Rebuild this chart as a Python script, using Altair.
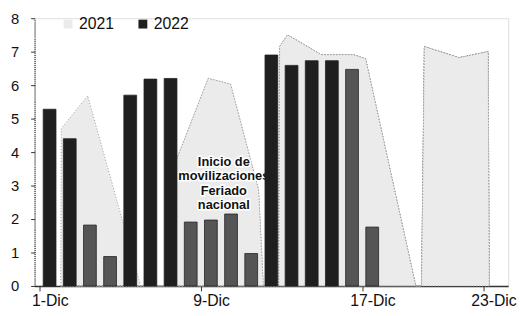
import altair as alt
import pandas as pd

# 2022 daily values (bars), days 1..17 of December
dias = list(range(1, 18))
valores_2022 = [5.28, 4.40, 1.82, 0.88, 5.70, 6.18, 6.20, 1.91, 1.97, 2.15, 0.97,
                6.90, 6.59, 6.73, 6.73, 6.47, 1.76]
resaltado = [False, False, True, True, False, False, False, True, True, True, True,
             False, False, False, False, True, True]

# 2021 outline (day position, value), in segments
tramo_2021 = [1, 1, 1, 1,
              2, 2, 2, 2, 2, 2,
              3, 3, 3, 3, 3, 3, 3,
              4, 4, 4, 4, 4]
dia_2021 = [1.55, 1.58, 2.89, 5.52,
            7.25, 7.29, 8.87, 9.97, 11.36, 11.60,
            12.37, 12.41, 12.80, 14.47, 16.05, 16.67, 19.16,
            19.45, 19.59, 21.31, 22.75, 22.80]
valores_2021 = [0, 4.70, 5.68, 0,
                0, 3.76, 6.20, 6.03, 2.88, 0,
                0, 7.15, 7.50, 6.91, 6.91, 6.79, 0,
                0, 7.15, 6.82, 7.00, 0]

dias_etiqueta = [1, 9, 17, 23]
series = ["2021", "2022"]
nota = "Inicio de\nmovilizaciones\nFeriado\nnacional"
nota_dia = 9.64
nota_valor = 3.88

df22 = pd.DataFrame({"dia": dias, "valor": valores_2022, "resaltado": resaltado, "serie": "2022"})
df21 = pd.DataFrame({"dia": dia_2021, "valor": valores_2021, "tramo": tramo_2021, "serie": "2021"})
dfnota = pd.DataFrame({"dia": [nota_dia], "valor": [nota_valor], "texto": [nota]})

FONT = "Liberation Sans"

xscale = alt.Scale(domain=[0.5, 23.5], nice=False, zero=False)
yscale = alt.Scale(domain=[0, 8], nice=False)
cscale = alt.Scale(domain=series, range=["#ebebeb", "#1f1f1f"])

xaxis = alt.Axis(
    values=[d - 0.5 for d in dias_etiqueta],
    labelExpr="(datum.value + 0.5) + '-Dic'",
    labelOffset=10.45, title=None, grid=False,
    labelFontSize=16, labelFont=FONT, labelColor="#111",
    tickSize=5, tickColor="#333", domainColor="#333", domainWidth=1.3,
    labelPadding=2, labelOverlap=False,
)
yaxis = alt.Axis(
    values=list(range(0, 9)), title=None, grid=False,
    labelFontSize=15, labelFont=FONT, labelColor="#111",
    tickSize=4, tickColor="#333", domainColor="#333", domainDash=[1, 1], domainWidth=1.3,
    labelPadding=12, labelOverlap=False,
)
legend = alt.Legend(
    title=None, orient="none", legendX=26, legendY=-2, direction="horizontal",
    symbolType="square", symbolSize=81, symbolStrokeWidth=0,
    labelFontSize=16, labelFont=FONT, labelColor="#111", labelOffset=3,
    columnPadding=21, padding=0,
)

X = alt.X("dia:Q", scale=xscale, axis=xaxis)
Y = alt.Y("valor:Q", scale=yscale, axis=yaxis)

area = alt.Chart(df21).mark_area(
    stroke="#9a9a9a", strokeDash=[1, 2], strokeWidth=1
).encode(
    x=X, y=Y,
    detail="tramo:N",
    color=alt.Color("serie:N", scale=cscale, legend=legend),
)

halo = alt.Chart(dfnota).mark_text(
    font=FONT, fontSize=13, fontWeight="bold", lineBreak="\n", lineHeight=14.5,
    baseline="top", align="center", stroke="white", strokeWidth=3, fill="white"
).encode(x=X, y=Y, text="texto:N")

texto = alt.Chart(dfnota).mark_text(
    font=FONT, fontSize=13, fontWeight="bold", lineBreak="\n", lineHeight=14.5,
    baseline="top", align="center", fill="#111"
).encode(x=X, y=Y, text="texto:N")

barras = alt.Chart(df22).mark_bar(size=13, stroke="#222", strokeWidth=0.8).encode(
    x=X, y=Y,
    color=alt.condition("datum.resaltado", alt.value("#555555"),
                        alt.Color("serie:N", scale=cscale, legend=legend)),
)

chart = alt.layer(area, halo, texto, barras).properties(
    width=481, height=272,
    autosize=alt.AutoSizeParams(type="none"),
    padding={"left": 27, "top": 8, "right": 12, "bottom": 20},
).configure_view(stroke=None).configure(background="white")

chart.save("out.html", embed_options={"renderer": "svg", "actions": False})
